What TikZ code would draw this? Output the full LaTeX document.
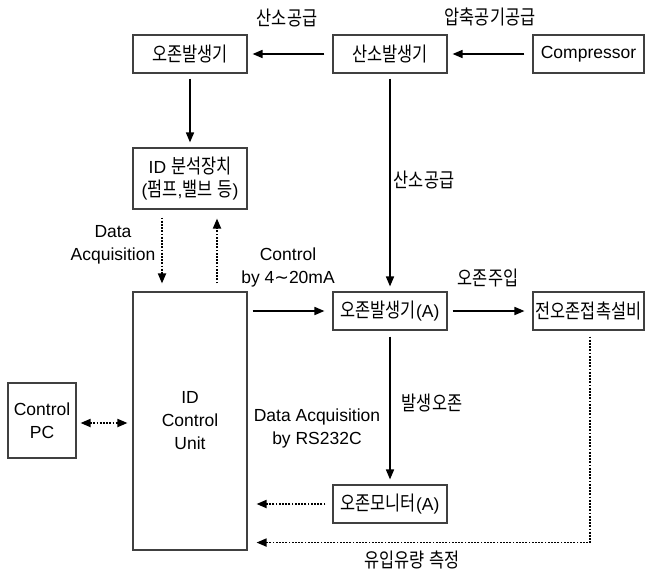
\documentclass[tikz,border=0pt]{standalone}
\usepackage{fontspec}
\setmainfont{Liberation Sans}
\newfontfamily\krf{Noto Sans CJK KR}[FakeStretch=0.82]
\newfontfamily\djv{DejaVu Sans}
\newcommand\kr[1]{{\krf\fontsize{20}{23}\selectfont #1}}
\usetikzlibrary{arrows.meta}
\tikzset{
  box/.style={draw=black!75, line width=1.1pt, minimum width=114pt, minimum height=38pt, inner sep=0pt, align=center},
  lbl/.style={inner sep=0pt, align=center},
  arr/.style={line width=1.6pt, -{Triangle[length=10pt,width=8pt]}},
  dotarr/.style={line width=1.8pt, dash pattern=on 1.8pt off 1.4pt, -{Triangle[length=10pt,width=8pt]}},
  dotboth/.style={line width=1.8pt, dash pattern=on 1.8pt off 1.4pt, {Triangle[length=10pt,width=8pt]}-{Triangle[length=10pt,width=8pt]}},
}
\begin{document}
\begin{tikzpicture}[x=1pt,y=-1pt, font=\fontsize{17.5}{23}\selectfont]
\useasboundingbox (0,0) rectangle (645,569);
% boxes
\node[box] (ozgen) at (190,54) {\kr{오존발생기}};
\node[box] (o2gen) at (390,54) {\kr{산소발생기}};
\node[box, minimum width=111pt] (comp) at (588.5,54) {Compressor};
\node[box, minimum height=61pt] (anal) at (190,178.5) {ID \kr{분석장치}\\(\kr{펌프},\kr{밸브} \kr{등})};
\node[box, minimum height=258pt] (idcu) at (190,421) {ID\\Control\\Unit};
\node[box, minimum width=68pt, minimum height=75pt] (pc) at (42,420.5) {Control\\PC};
\node[box] (ozA) at (390,311) {\kr{오존발생기}(A)};
\node[box, minimum width=111pt] (pre) at (588.5,311) {\makebox[100pt][c]{\kr{전오존접촉설비}}};
\node[box] (mon) at (390,504) {\kr{오존모니터}(A)};
% labels
\node[lbl] (l1) at (287,18) {\kr{산소공급}};
\node[lbl] (l2) at (490,17) {\kr{압축공기공급}};
\node[lbl] (l3) at (424,180) {\kr{산소공급}};
\node[lbl] (l4) at (113,245) {Data\\Acquisition};
\node[lbl] (l5) at (288,267) {Control\\by 4{\djv ∼}20mA};
\node[lbl] (l6) at (488,278) {\kr{오존주입}};
\node[lbl] (l7) at (432,403) {\kr{발생오존}};
\node[lbl] (l8) at (317,428) {Data Acquisition\\by RS232C};
\node[lbl] (l9) at (412,560) {\kr{유입유량} \kr{측정}};
% connectors
\draw[arr, shorten <=8pt, shorten >=5pt] (comp.west) -- (o2gen.east);
\draw[arr, shorten <=8pt, shorten >=5pt] (o2gen.west) -- (ozgen.east);
\draw[arr, shorten <=5pt, shorten >=5pt] (ozgen.south) -- (anal.north);
\draw[arr, shorten <=5pt, shorten >=5pt] (o2gen.south) -- (ozA.north);
\draw[dotarr, shorten <=8pt, shorten >=8pt] ([xshift=-28pt]anal.south) -- ([xshift=-28pt]idcu.north);
\draw[dotarr, shorten <=8pt, shorten >=9pt] ([xshift=27pt]idcu.north) -- ([xshift=27pt]anal.south);
\draw[arr, shorten <=5pt, shorten >=8pt] (ozA.west -| idcu.east) -- (ozA.west);
\draw[arr, shorten <=5pt, shorten >=8pt] (ozA.east) -- (pre.west);
\draw[arr, shorten <=6pt, shorten >=5pt] (ozA.south) -- (mon.north);
\draw[dotarr, shorten <=7pt, shorten >=9pt] (mon.west) -- (mon.west -| idcu.east);
\draw[dotarr, shorten <=6pt, shorten >=9pt] ([xshift=1.5pt]pre.south) |- ([yshift=8pt]idcu.south east);
\draw[dotboth, shorten <=4pt, shorten >=5pt] ([yshift=-2.5pt]pc.east) -- ([yshift=-2.5pt]pc.east -| idcu.west);
\end{tikzpicture}
\end{document}
